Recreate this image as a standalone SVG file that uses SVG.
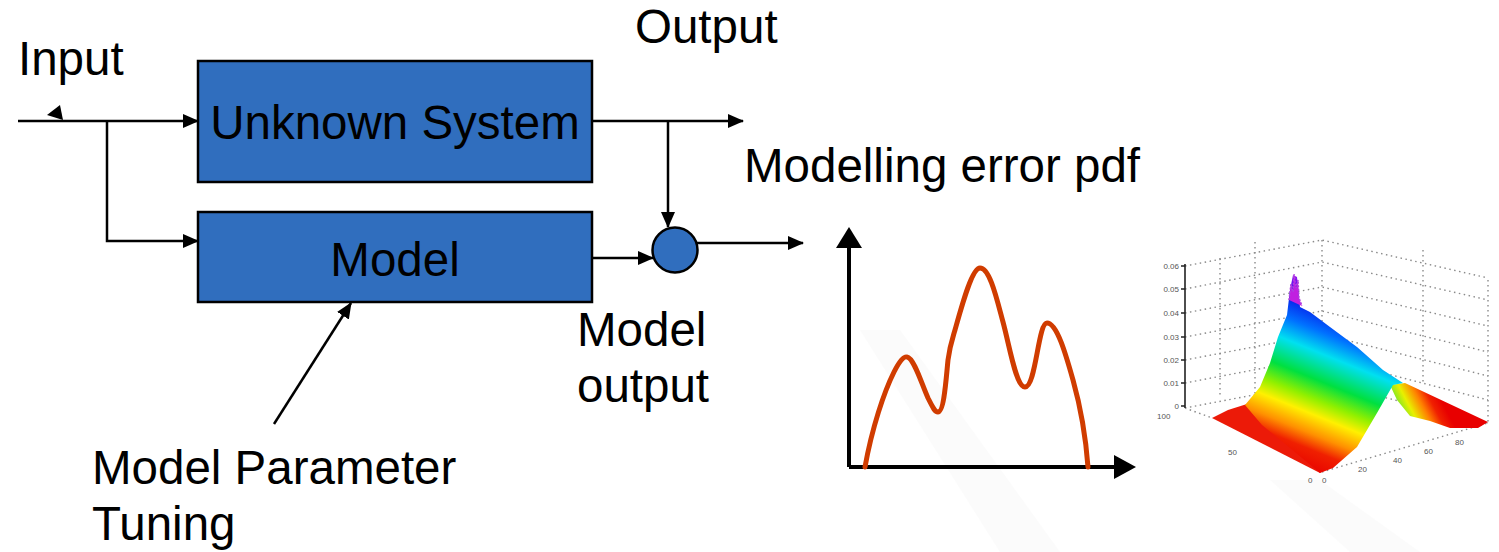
<svg xmlns="http://www.w3.org/2000/svg" width="1499" height="552" viewBox="0 0 1499 552">
  <defs>
    <style>
      .lbl { font-family: "Liberation Sans", Arial, sans-serif; font-size: 47.5px; fill: #000; }
      .box { fill: #306EBE; stroke: #000; stroke-width: 2.5; }
      .wire { fill: none; stroke: #000; stroke-width: 2.5; }
      .axis { fill: none; stroke: #000; stroke-width: 4; }
      .grid { fill: none; stroke: #8a8a8a; stroke-width: 1.4; stroke-dasharray: 1.5 3.5; }
      .tick { font-family: "Liberation Sans", Arial, sans-serif; font-size: 8px; fill: #555; }
    </style>
    <marker id="arrow" markerUnits="userSpaceOnUse" markerWidth="16" markerHeight="16" viewBox="0 0 16 16" refX="15" refY="8" orient="auto">
      <path d="M0,1 L16,8 L0,15 Z" fill="#000"/>
    </marker>
    <linearGradient id="wallGrad" gradientUnits="userSpaceOnUse" x1="1335" y1="283" x2="1265" y2="455">
      <stop offset="0" stop-color="#D020F0"/>
      <stop offset="0.08" stop-color="#7010F0"/>
      <stop offset="0.15" stop-color="#0818E8"/>
      <stop offset="0.27" stop-color="#0070FF"/>
      <stop offset="0.38" stop-color="#00E0F0"/>
      <stop offset="0.52" stop-color="#00E040"/>
      <stop offset="0.62" stop-color="#90F000"/>
      <stop offset="0.70" stop-color="#FFF000"/>
      <stop offset="0.80" stop-color="#FF9000"/>
      <stop offset="0.88" stop-color="#F02000"/>
      <stop offset="1" stop-color="#E80000"/>
    </linearGradient>
    <linearGradient id="backGrad" gradientUnits="userSpaceOnUse" x1="1398" y1="420" x2="1440" y2="398">
      <stop offset="0" stop-color="#30E040"/>
      <stop offset="0.35" stop-color="#E8F000"/>
      <stop offset="0.6" stop-color="#FF8000"/>
      <stop offset="0.8" stop-color="#F02000"/>
      <stop offset="1" stop-color="#E80000"/>
    </linearGradient>
  </defs>

  <rect width="1499" height="552" fill="#fff"/>
  <!-- faint background texture on the right -->
  <polygon points="860,330 900,330 1060,552 1000,552" fill="#EEF1EE" opacity="0.25"/>
  <polygon points="1270,480 1320,480 1420,552 1350,552" fill="#EEF1EE" opacity="0.25"/>

  <!-- connectors -->
  <g id="connectors">
    <line class="wire" x1="18" y1="121" x2="198" y2="121" marker-end="url(#arrow)"/>
    <polygon points="47,115 60,105 63,120" fill="#000"/>
    <polyline class="wire" points="107,121 107,241 198,241" marker-end="url(#arrow)"/>
    <line class="wire" x1="592" y1="121" x2="743" y2="121" marker-end="url(#arrow)"/>
    <line class="wire" x1="668" y1="121" x2="668" y2="227" marker-end="url(#arrow)"/>
    <line class="wire" x1="592" y1="258" x2="653" y2="258" marker-end="url(#arrow)"/>
    <line class="wire" x1="697" y1="243" x2="803" y2="243" marker-end="url(#arrow)"/>
    <line class="wire" x1="274" y1="424" x2="351" y2="303" marker-end="url(#arrow)"/>
  </g>

  <!-- nodes -->
  <g id="unknown-system">
    <rect class="box" x="198" y="61" width="394" height="121"/>
    <text class="lbl" x="395" y="139" text-anchor="middle">Unknown System</text>
  </g>
  <g id="model">
    <rect class="box" x="198" y="212" width="394" height="90"/>
    <text class="lbl" x="395" y="276" text-anchor="middle">Model</text>
  </g>
  <g id="sum">
    <circle cx="675" cy="250" r="22.5" fill="#306EBE" stroke="#000" stroke-width="2.5"/>
  </g>

  <!-- labels -->
  <g id="labels">
    <text class="lbl" x="18" y="75">Input</text>
    <text class="lbl" x="635" y="43">Output</text>
    <text class="lbl" x="744" y="182">Modelling error pdf</text>
    <text class="lbl" x="577" y="346">Model</text>
    <text class="lbl" x="577" y="402">output</text>
    <text class="lbl" x="92" y="484">Model Parameter</text>
    <text class="lbl" x="92" y="540">Tuning</text>
  </g>

  <!-- error pdf sketch -->
  <g id="pdf-plot">
    <path class="axis" d="M849,467 L849,244 M849,467 L1117,467"/>
    <polygon points="849,227 836,248 862,248" fill="#000"/>
    <polygon points="1136,467 1114,455 1114,479" fill="#000"/>
    <path d="M865,467 C872,428 884,392 894,372 C900,360 904,356 907,357 C914,358 922,385 928,398 C933,408 935,412 938,412 C944,412 946,380 948,360 C950,345 952,340 955,330 C962,305 972,268 980,268 C990,268 997,300 1003,322 C1010,348 1016,387 1025,387 C1036,387 1038,323 1047,323 C1057,323 1066,355 1073,380 C1080,405 1086,440 1088,467" fill="none" stroke="#D03C00" stroke-width="5" stroke-linecap="round"/>
  </g>

  <!-- 3-D surface plot -->
  <g id="surface-plot">
    <!-- box grid -->
    <path class="grid" d="M1220,258 L1220,398 M1255,242 L1255,397 M1322,240 L1322,382 M1423,250 L1423,383 M1488,280 L1488,423"/>
    <path class="grid" d="M1185,289 L1322,262 L1488,300 M1185,313 L1322,287 L1488,326 M1185,337 L1322,311 L1488,352 M1185,360 L1322,334 L1488,376 M1185,383 L1322,357 L1488,400 M1185,266 L1322,240 L1488,278"/>
    <path class="grid" d="M1185,408 L1212,418 M1322,472 L1488,423 M1185,408 L1322,382 L1488,423"/>
    <!-- vertical axis -->
    <path d="M1185,264 L1185,408 M1181,266 L1185,266 M1181,289 L1185,289 M1181,313 L1185,313 M1181,337 L1185,337 M1181,360 L1185,360 M1181,383 L1185,383 M1181,406 L1185,406" fill="none" stroke="#222" stroke-width="1.6"/>
    <text class="tick" x="1179" y="269" text-anchor="end">0.06</text>
    <text class="tick" x="1179" y="292" text-anchor="end">0.05</text>
    <text class="tick" x="1179" y="316" text-anchor="end">0.04</text>
    <text class="tick" x="1179" y="340" text-anchor="end">0.03</text>
    <text class="tick" x="1179" y="363" text-anchor="end">0.02</text>
    <text class="tick" x="1179" y="386" text-anchor="end">0.01</text>
    <text class="tick" x="1179" y="409" text-anchor="end">0</text>
    <text class="tick" x="1157" y="419">100</text>
    <text class="tick" x="1228" y="455">50</text>
    <text class="tick" x="1308" y="483">0</text>
    <text class="tick" x="1322" y="483">0</text>
    <text class="tick" x="1358" y="472">20</text>
    <text class="tick" x="1393" y="463">40</text>
    <text class="tick" x="1424" y="454">60</text>
    <text class="tick" x="1455" y="445">80</text>
    <!-- back ridge section -->
    <polygon points="1390,385 1405,383 1488,422 1478,428 1450,428 1430,421 1410,416 1397,400" fill="url(#backGrad)"/>
    <!-- floor strip in front -->
    <polygon points="1212,418 1228,410 1247,404 1300,440 1330,462 1320,473" fill="#EC1A08"/>
    <!-- main ridge wall -->
    <polygon points="1245,405 1260,387 1270,363 1278,337 1287,315 1290,290 1293,275 1297,277 1300,307 1310,312 1330,327 1357,347 1383,370 1403,383 1393,385 1377,413 1357,447 1333,468 1320,473 1290,448 1262,425" fill="url(#wallGrad)"/>
    <!-- spiky peak -->
    <path d="M1289,300 L1291,284 L1293,292 L1294,274 L1296,288 L1298,280 L1299,298 L1302,306" fill="#C020E0" stroke="#B040E0" stroke-width="1.5" stroke-dasharray="2 1.5"/>
  </g>
</svg>
